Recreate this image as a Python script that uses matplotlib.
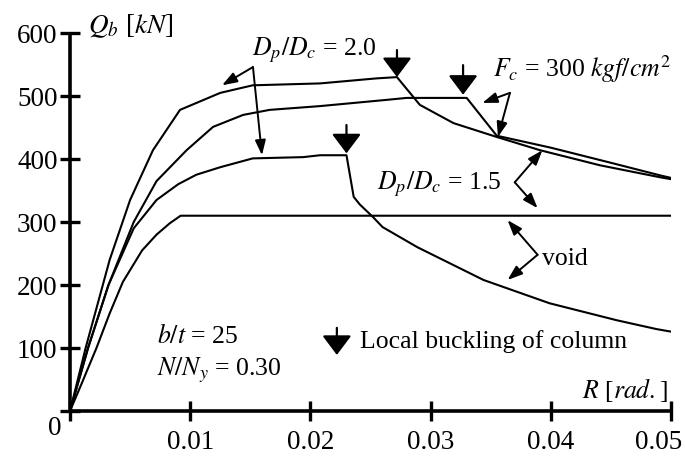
import numpy as np
import matplotlib
matplotlib.use("Agg")
import matplotlib.pyplot as plt
import matplotlib.transforms as mtrans

plt.rcParams['font.family'] = ['Liberation Serif', 'DejaVu Serif']
plt.rcParams['mathtext.fontset'] = 'stix'

# curves: rotation R [rad.] vs Q_b [kN]
rA = [0, 0.0013, 0.0033, 0.005, 0.0069, 0.00915, 0.0125, 0.0152, 0.0208, 0.0255, 0.0272,
      0.0291, 0.0319, 0.0355, 0.0391, 0.0441, 0.0491, 0.05]
qA = [0, 100, 240, 335, 414, 478, 505, 517, 520, 528, 530,
      486, 457, 435, 414, 390, 371, 368]

rB = [0, 0.0015, 0.0032, 0.0053, 0.0072, 0.0097, 0.0119, 0.0144, 0.0166, 0.0208, 0.0264,
      0.028, 0.0330, 0.0355, 0.040, 0.045, 0.0491, 0.05]
qB = [0, 100, 200, 300, 365, 414, 451, 470, 478, 484, 494,
      497, 497, 437, 418, 394, 374, 370]

rC = [0, 0.0015, 0.0032, 0.0053, 0.0072, 0.009, 0.0105, 0.0125, 0.0152, 0.0194, 0.0208, 0.023,
      0.0236, 0.0241, 0.0252, 0.026, 0.0289, 0.0344, 0.0399, 0.0455, 0.0488, 0.05]
qC = [0, 100, 200, 290, 335, 360, 375, 387, 401, 403, 406, 406,
      340, 328, 308, 292, 260, 208, 171, 144, 130, 126]

rD = [0, 0.001, 0.0022, 0.0033, 0.0044, 0.006, 0.0072, 0.0083, 0.0092, 0.05]
qD = [0, 45, 100, 155, 205, 255, 280, 298, 310, 310]

# local buckling points (arrow tip, stem top)
buck_r = [0.0272, 0.0327, 0.0230]
buck_q = [530, 502, 409]
buck_top = [573, 549, 454]

xticks = [0, 0.01, 0.02, 0.03, 0.04, 0.05]
xlabels = ['', '0.01', '0.02', '0.03', '0.04', '0.05']
yticks = [0, 100, 200, 300, 400, 500, 600]
ylabels = ['', '100', '200', '300', '400', '500', '600']

fig = plt.figure(figsize=(6.85, 4.58), dpi=100)
ax = fig.add_axes([0.1022, 0.1026, 0.8774, 0.8253])

for r, q in [(rA, qA), (rB, qB), (rC, qC), (rD, qD)]:
    ax.plot(r, q, color='k', lw=1.5, solid_joinstyle='round')

ax.set_xlim(0, 0.05)
ax.set_ylim(0, 600)
for s in ['top', 'right']:
    ax.spines[s].set_visible(False)
for s in ['left', 'bottom']:
    ax.spines[s].set_linewidth(2.6)
    ax.spines[s].set_capstyle('butt')
ax.set_xticks(xticks)
ax.set_xticklabels(xlabels)
ax.set_yticks(yticks)
ax.set_yticklabels(ylabels)
ax.tick_params(direction='inout', length=14, width=2.4, labelsize=19.5)
ax.tick_params(axis='x', pad=7)
ax.tick_params(axis='y', pad=2)
last = ax.get_xticklabels()[-1]
last.set_transform(last.get_transform() +
                   mtrans.ScaledTranslation(-9 / 72, 0, fig.dpi_scale_trans))
ax.text(-0.0013, -27, '0', fontsize=19.5, ha='center', va='center')

fs = 18.5
ax.text(0.0015, 600, r'$Q_b$ [$kN$]', fontsize=fs + 1, va='baseline', ha='left')
ax.text(0.04975, 21, r'$R$ [$rad.$]', fontsize=fs, va='baseline', ha='right')
ax.text(0.0072, 108, r'$b/t$ = 25', fontsize=fs, va='baseline')
ax.text(0.0072, 57, r'$N/N_y$ = 0.30', fontsize=fs, va='baseline')
ax.text(0.0151, 565, r'$D_p/D_c$ = 2.0', fontsize=fs, va='baseline')
ax.text(0.0255, 351, r'$D_p/D_c$ = 1.5', fontsize=fs, va='baseline')
ax.text(0.0352, 530, r'$F_c$ = 300 $kgf/cm^2$', fontsize=fs, va='baseline')
ax.text(0.0393, 232, 'void', fontsize=fs, va='baseline')
ax.text(0.0241, 100, 'Local buckling of column', fontsize=fs, va='baseline')

# pointer arrows: (vertex, tip)
pointers = [
    ((0.01522, 546), (0.01265, 517)),
    ((0.01522, 546), (0.01597, 406)),
    ((0.0366, 505), (0.0343, 489)),
    ((0.0366, 505), (0.0356, 435)),
    ((0.0370, 363), (0.0393, 414)),
    ((0.0370, 363), (0.0389, 322)),
    ((0.0389, 248), (0.0364, 303)),
    ((0.0389, 248), (0.0364, 208)),
]
for v, t in pointers:
    ax.annotate('', xy=t, xytext=v,
                arrowprops=dict(arrowstyle='-|>,head_length=0.45,head_width=0.16',
                                lw=1.4, color='k', shrinkA=0, shrinkB=0,
                                mutation_scale=20))

buck_style = dict(arrowstyle='-|>,head_length=0.6,head_width=0.45',
                  lw=1.6, color='k', shrinkA=0, shrinkB=0, mutation_scale=20)
for r, q, top in zip(buck_r, buck_q, buck_top):
    ax.annotate('', xy=(r, q), xytext=(r, top), arrowprops=buck_style)
ax.annotate('', xy=(0.0222, 89), xytext=(0.0222, 132), arrowprops=buck_style)

fig.savefig('out.png', dpi=100)
